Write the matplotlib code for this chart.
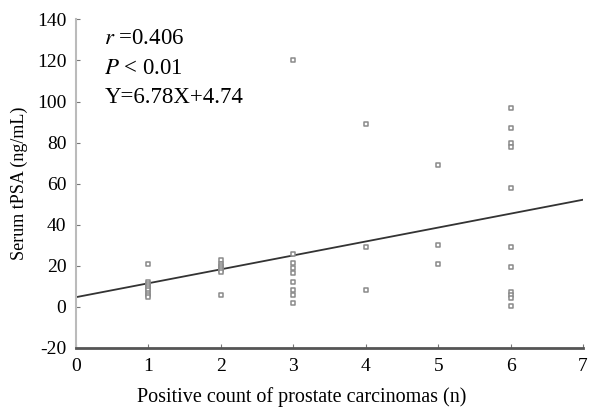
import numpy as np
import matplotlib.pyplot as plt

plt.rcParams['font.family'] = ['Liberation Serif', 'DejaVu Serif']
plt.rcParams['axes.unicode_minus'] = False

# positive count of carcinomas vs serum tPSA (ng/mL)
count = [1, 1, 1, 1, 1, 1, 1, 1, 1,
         2, 2, 2, 2, 2, 2, 2,
         3, 3, 3, 3, 3, 3, 3, 3, 3,
         4, 4, 4,
         5, 5, 5,
         6, 6, 6, 6, 6, 6, 6, 6, 6, 6, 6]
tpsa = [21, 12, 11, 10, 9, 8, 7, 6, 5,
        23, 21, 20, 19, 18, 17, 6,
        120, 26, 21.5, 19, 16.5, 12, 8, 6, 2,
        89, 29, 8,
        69, 30, 21,
        97, 87, 80, 78, 58, 29, 19.5, 7.5, 6, 4.5, 0.5]

slope, intercept = 6.78, 4.74
fit_x = np.array([0, 7])
stats_lines = [r'$r$ =0.406', r'$P$ < 0.01', 'Y=6.78X+4.74']

fig = plt.figure(figsize=(5.89, 4.17), dpi=100)
ax = fig.add_axes([0.129, 0.1655, 0.861, 0.788])

ax.scatter(count, tpsa, marker='s', s=11, facecolors='white',
           edgecolors='#8a8a8a', linewidths=1.1, zorder=3)
ax.plot(fit_x, slope * fit_x + intercept, color='#333333', lw=1.3, zorder=2)

ys = [130.5, 116, 102]
for t, y in zip(stats_lines, ys):
    ax.text(0.39, y, t, fontsize=16.5, va='center', ha='left',
            math_fontfamily='stix')

ax.set_xlim(0, 7)
ax.set_ylim(-20, 140)
ax.set_xticks(range(0, 8))
ax.set_yticks(range(-20, 141, 20))
ax.tick_params(axis='both', labelsize=14, direction='in', length=3,
               color='#777777')
ax.tick_params(axis='y', pad=7)
ax.tick_params(axis='x', pad=7)

for s in ['top', 'right']:
    ax.spines[s].set_visible(False)
ax.spines['left'].set_color('#bbbbbb')
ax.spines['left'].set_linewidth(1.5)
ax.spines['bottom'].set_color('#555555')
ax.spines['bottom'].set_linewidth(2)

ax.set_xlabel('Positive count of prostate carcinomas (n)', fontsize=14.5,
              labelpad=9, x=0.446)
ax.set_ylabel('Serum tPSA (ng/mL)', fontsize=13, labelpad=6)

fig.savefig('out.png', dpi=100)
